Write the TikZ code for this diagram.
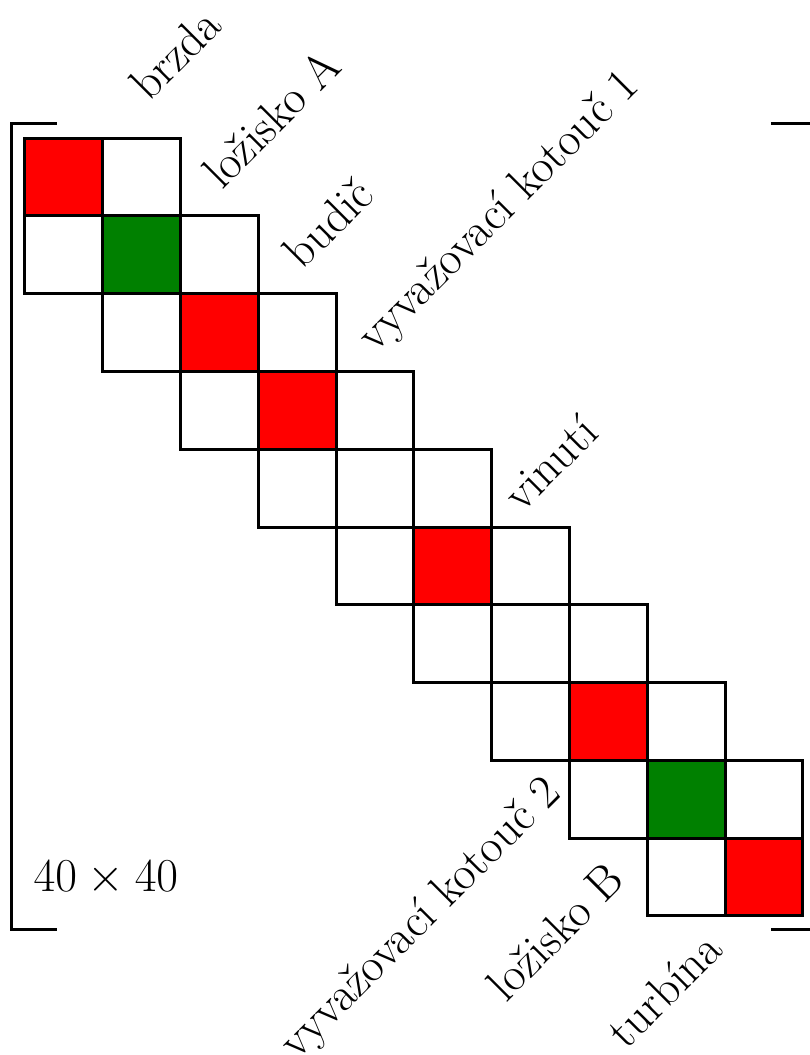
\documentclass[tikz,border=0pt]{standalone}
\usepackage{tikz}

\definecolor{blkred}{RGB}{255,0,0}
\definecolor{blkgreen}{RGB}{0,128,0}

\tikzset{every picture/.style={line width=1.1pt}}
\tikzset{
  blk/.style={draw=black, fill=white},
  redblk/.style={draw=black, fill=blkred},
  greenblk/.style={draw=black, fill=blkgreen},
  toplabel/.style={anchor=base west, inner sep=0pt, rotate=45, font=\LARGE},
  botlabel/.style={anchor=base east, inner sep=0pt, rotate=45, font=\LARGE}
}

\begin{document}
\begin{tikzpicture}
    %set page like the reference (matrix top left corner at 0,0)
    \useasboundingbox (-0.321,1.774) rectangle (10.090,-11.787);

    %Shape: Rectangle row 1
    \draw [redblk] (0,0) rectangle (1,-1) ;
    \draw [blk] (1,0) rectangle (2,-1) ;
    %Shape: Rectangle row 2
    \draw [blk] (0,-1) rectangle (1,-2) ;
    \draw [greenblk] (1,-1) rectangle (2,-2) ;
    \draw [blk] (2,-1) rectangle (3,-2) ;
    %Shape: Rectangle row 3
    \draw [blk] (1,-2) rectangle (2,-3) ;
    \draw [redblk] (2,-2) rectangle (3,-3) ;
    \draw [blk] (3,-2) rectangle (4,-3) ;
    %Shape: Rectangle row 4
    \draw [blk] (2,-3) rectangle (3,-4) ;
    \draw [redblk] (3,-3) rectangle (4,-4) ;
    \draw [blk] (4,-3) rectangle (5,-4) ;
    %Shape: Rectangle row 5
    \draw [blk] (3,-4) rectangle (4,-5) ;
    \draw [blk] (4,-4) rectangle (5,-5) ;
    \draw [blk] (5,-4) rectangle (6,-5) ;
    %Shape: Rectangle row 6
    \draw [blk] (4,-5) rectangle (5,-6) ;
    \draw [redblk] (5,-5) rectangle (6,-6) ;
    \draw [blk] (6,-5) rectangle (7,-6) ;
    %Shape: Rectangle row 7
    \draw [blk] (5,-6) rectangle (6,-7) ;
    \draw [blk] (6,-6) rectangle (7,-7) ;
    \draw [blk] (7,-6) rectangle (8,-7) ;
    %Shape: Rectangle row 8
    \draw [blk] (6,-7) rectangle (7,-8) ;
    \draw [redblk] (7,-7) rectangle (8,-8) ;
    \draw [blk] (8,-7) rectangle (9,-8) ;
    %Shape: Rectangle row 9
    \draw [blk] (7,-8) rectangle (8,-9) ;
    \draw [greenblk] (8,-8) rectangle (9,-9) ;
    \draw [blk] (9,-8) rectangle (10,-9) ;
    %Shape: Rectangle row 10
    \draw [blk] (8,-9) rectangle (9,-10) ;
    \draw [redblk] (9,-9) rectangle (10,-10) ;

    %Straight Lines left bracket
    \draw (0.411,0.193) -- (-0.167,0.193) -- (-0.167,-10.18) -- (0.411,-10.18) ;
    %Straight Lines right bracket (vertical part runs off the page)
    \draw (9.589,0.193) -- (10.167,0.193) -- (10.167,-10.18) -- (9.589,-10.18) ;

    % Text Node
    \node [toplabel] (brzda) at (1.584,0.44) {brzda};
    % Text Node
    \node [toplabel] (lozA) at (2.519,-0.694) {ložisko A};
    % Text Node
    \node [toplabel] (budic) at (3.56,-1.722) {budič};
    % Text Node
    \node [toplabel] (kotA) at (4.486,-2.789) {vyvažovací kotouč 1};
    % Text Node
    \node [toplabel] (vinuti) at (6.38,-4.84) {vinutí};
    % Text Node
    \node [botlabel] (kotB) at (6.93,-8.43) {vyvažovací kotouč 2};
    % Text Node
    \node [botlabel] (lozB) at (7.75,-9.56) {ložisko B};
    % Text Node
    \node [botlabel] (turbina) at (9.01,-10.45) {turbína};
    % Text Node
    \node [anchor=base, inner sep=0pt, font=\LARGE] (size) at (1.04,-9.69) {$40 \times 40$};

\end{tikzpicture}
\end{document}
